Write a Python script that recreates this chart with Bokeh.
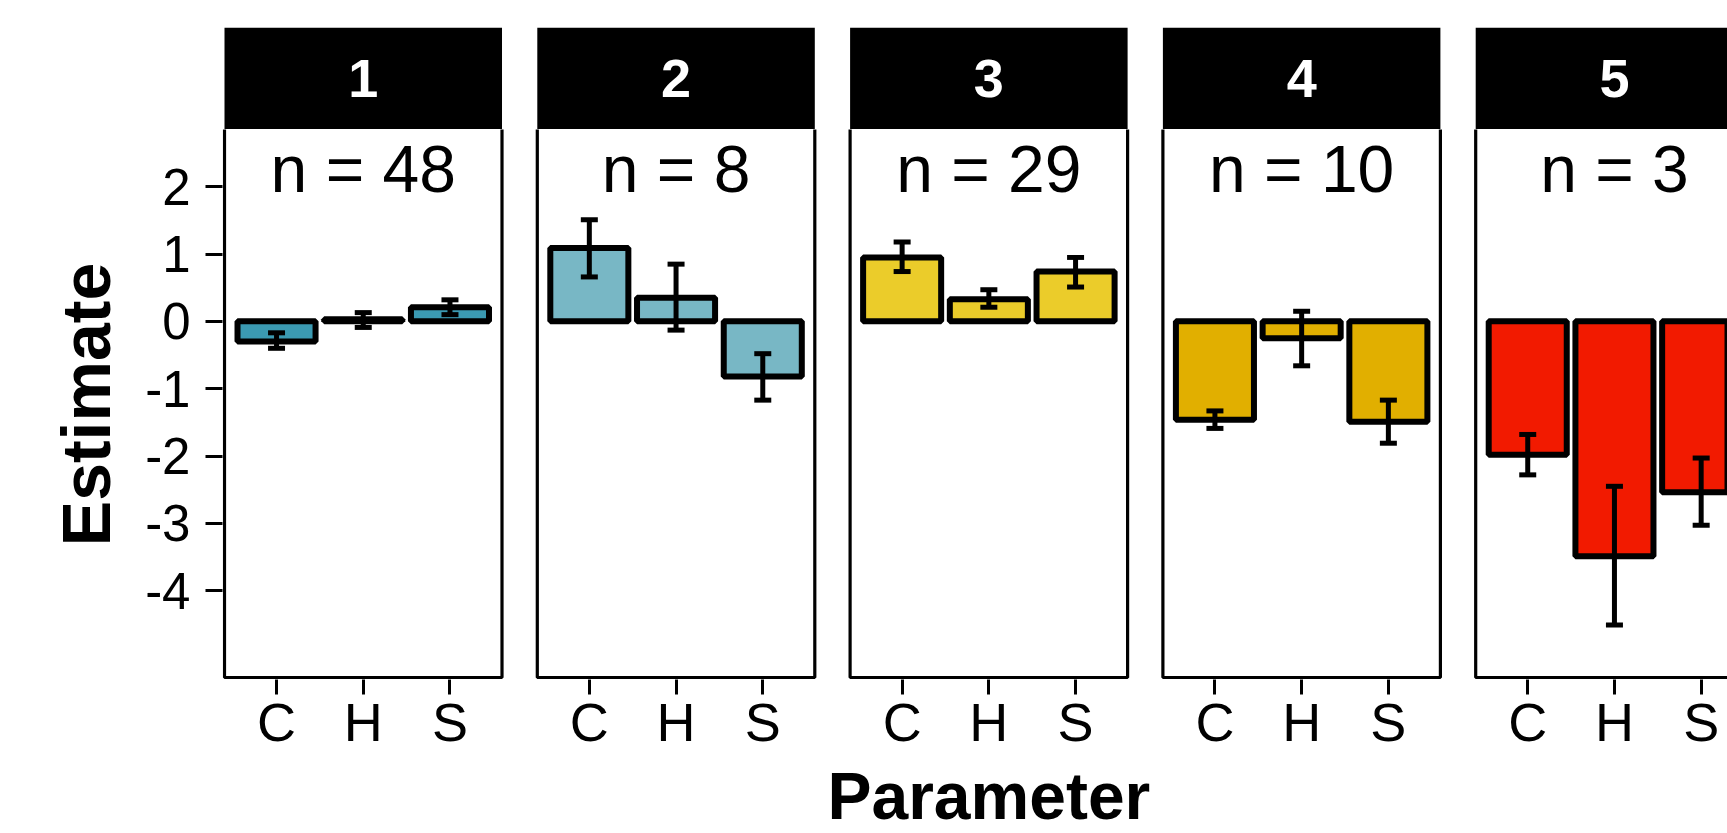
from bokeh.plotting import figure
from bokeh.models import Range1d, FixedTicker, Whisker, TeeHead, ColumnDataSource
from bokeh.layouts import column
from bokeh.core.properties import value
from bokeh.embed import file_html
from bokeh.resources import INLINE

# ---------------- data ----------------
panels = ["1", "2", "3", "4", "5"]
n_obs = [48, 8, 29, 10, 3]
params = ["C", "H", "S"]
colors = ["#3B9AB2", "#78B7C5", "#EBCC2A", "#E1AF00", "#F21A00"]

est_1 = [-0.30, 0.03, 0.21]
est_2 = [1.09, 0.35, -0.82]
est_3 = [0.95, 0.33, 0.74]
est_4 = [-1.46, -0.25, -1.49]
est_5 = [-1.98, -3.49, -2.54]

low_1 = [-0.40, -0.09, 0.10]
low_2 = [0.66, -0.13, -1.17]
low_3 = [0.74, 0.21, 0.51]
low_4 = [-1.59, -0.66, -1.81]
low_5 = [-2.28, -4.51, -3.03]

up_1 = [-0.17, 0.13, 0.32]
up_2 = [1.51, 0.85, -0.48]
up_3 = [1.18, 0.47, 0.95]
up_4 = [-1.33, 0.15, -1.17]
up_5 = [-1.68, -2.45, -2.03]

y_ticks = [-4, -3, -2, -1, 0, 1, 2]
n_label_y = 2.27

estimates = [est_1, est_2, est_3, est_4, est_5]
lowers = [low_1, low_2, low_3, low_4, low_5]
uppers = [up_1, up_2, up_3, up_4, up_5]

# ---------------- layout constants ----------------
FONT = "Liberation Sans"
PITCH = 3.607          # distance between facets, in category units
UNIT_PX = 86.72        # pixels per category unit
FIG_W = 1727
BORDER_L = 222
X0 = 0.4 - 2 / UNIT_PX
X1 = X0 + (FIG_W - BORDER_L) / UNIT_PX
Y_TOP = 2.85
Y_PANEL_BOTTOM = -5.29
Y_BOTTOM = Y_PANEL_BOTTOM - 2 / 67.35

STRIP_H = 129          # 27 px top border + 102 px strip
MAIN_FRAME_H = 550
MAIN_BOTTOM = 78
MAIN_H = MAIN_FRAME_H + MAIN_BOTTOM
TITLE_H = 833 - STRIP_H - MAIN_H

x_range = Range1d(X0, X1)

# ---------------- data tables ----------------
xs, tops, lo, hi, fills = [], [], [], [], []
for k in range(len(panels)):
    for j in range(len(params)):
        xs.append(k * PITCH + j + 1)
        tops.append(estimates[k][j])
        lo.append(lowers[k][j])
        hi.append(uppers[k][j])
        fills.append(colors[k])
bars = ColumnDataSource(dict(x=xs, top=tops, lower=lo, upper=hi, color=fills))

pan_left = [k * PITCH + 0.4 for k in range(len(panels))]
pan_right = [k * PITCH + 3.6 for k in range(len(panels))]
pan_mid = [k * PITCH + 2 for k in range(len(panels))]

# ---------------- strip figure ----------------
s = figure(width=FIG_W, height=STRIP_H, x_range=x_range, y_range=Range1d(0, 1),
           output_backend="svg", toolbar_location=None, title=None,
           x_axis_location=None, y_axis_location=None,
           min_border_left=BORDER_L, min_border_right=0, min_border_top=STRIP_H - 102,
           min_border_bottom=0)
s.outline_line_color = None
s.grid.visible = False
s.quad(left=pan_left, right=pan_right, bottom=0, top=1, fill_color="black", line_color=None)
s.text(x=pan_mid, y=[0.5] * len(panels), text=panels, text_color="white",
       text_font=value(FONT), text_font_size="54px", text_font_style="bold",
       text_align="center", text_baseline="middle")

# ---------------- main figure ----------------
p = figure(width=FIG_W, height=MAIN_H, x_range=x_range, y_range=Range1d(Y_BOTTOM, Y_TOP),
           output_backend="svg", toolbar_location=None, title=None,
           min_border_left=BORDER_L, min_border_right=0, min_border_top=0,
           min_border_bottom=MAIN_BOTTOM)
p.outline_line_color = None
p.grid.visible = False

p.quad(left=pan_left, right=pan_right, bottom=Y_PANEL_BOTTOM, top=Y_TOP + 1,
       fill_color=None, line_color="black", line_width=3.2)

p.vbar(x="x", top="top", bottom=0, width=0.9, source=bars,
       fill_color="color", line_color="black", line_width=6)

w = Whisker(base="x", lower="lower", upper="upper", source=bars, dimension="height",
            line_color="black", line_width=5, level="annotation",
            upper_head=TeeHead(size=17, line_color="black", line_width=5),
            lower_head=TeeHead(size=17, line_color="black", line_width=5))
p.add_layout(w)

p.text(x=pan_mid, y=[n_label_y] * len(panels), text=[f"n = {n}" for n in n_obs],
       text_color="black", text_font=value(FONT), text_font_size="66px",
       text_align="center", text_baseline="middle")

# y axis
p.yaxis.ticker = FixedTicker(ticks=y_ticks)
p.yaxis.major_label_overrides = {t: str(t) for t in y_ticks}
p.yaxis.axis_line_color = None
p.yaxis.minor_tick_line_color = None
p.yaxis.major_tick_in = 0
p.yaxis.major_tick_out = 17
p.yaxis.major_tick_line_width = 3
p.yaxis.major_tick_line_color = "black"
p.yaxis.major_label_text_font = FONT
p.yaxis.major_label_text_font_size = "51px"
p.yaxis.major_label_text_color = "black"
p.yaxis.major_label_standoff = 15
p.yaxis.axis_label = "Estimate"
p.yaxis.axis_label_text_font = FONT
p.yaxis.axis_label_text_font_size = "68px"
p.yaxis.axis_label_text_font_style = "bold"
p.yaxis.axis_label_text_color = "black"
p.yaxis.axis_label_standoff = 18

# x axis
p.xaxis.ticker = FixedTicker(ticks=xs)
p.xaxis.major_label_overrides = {x: params[i % 3] for i, x in enumerate(xs)}
p.xaxis.axis_line_color = None
p.xaxis.minor_tick_line_color = None
p.xaxis.major_tick_in = 0
p.xaxis.major_tick_out = 15
p.xaxis.major_tick_line_width = 3
p.xaxis.major_tick_line_color = "black"
p.xaxis.major_label_text_font = FONT
p.xaxis.major_label_text_font_size = "54px"
p.xaxis.major_label_text_color = "black"
p.xaxis.major_label_standoff = -3

# ---------------- x-axis title figure ----------------
t = figure(width=FIG_W, height=TITLE_H, x_range=x_range, y_range=Range1d(0, 1),
           output_backend="svg", toolbar_location=None, title=None,
           x_axis_location=None, y_axis_location=None,
           min_border_left=BORDER_L, min_border_right=0, min_border_top=0,
           min_border_bottom=0)
t.outline_line_color = None
t.grid.visible = False
centre = (pan_left[0] + pan_right[-1]) / 2
t.text(x=[centre], y=[0.5], text=["Parameter"], text_color="black",
       text_font=value(FONT), text_font_size="66px", text_font_style="bold",
       text_align="center", text_baseline="middle")

layout = column(s, p, t, spacing=0)
open("out.html", "w").write(file_html(layout, INLINE))
